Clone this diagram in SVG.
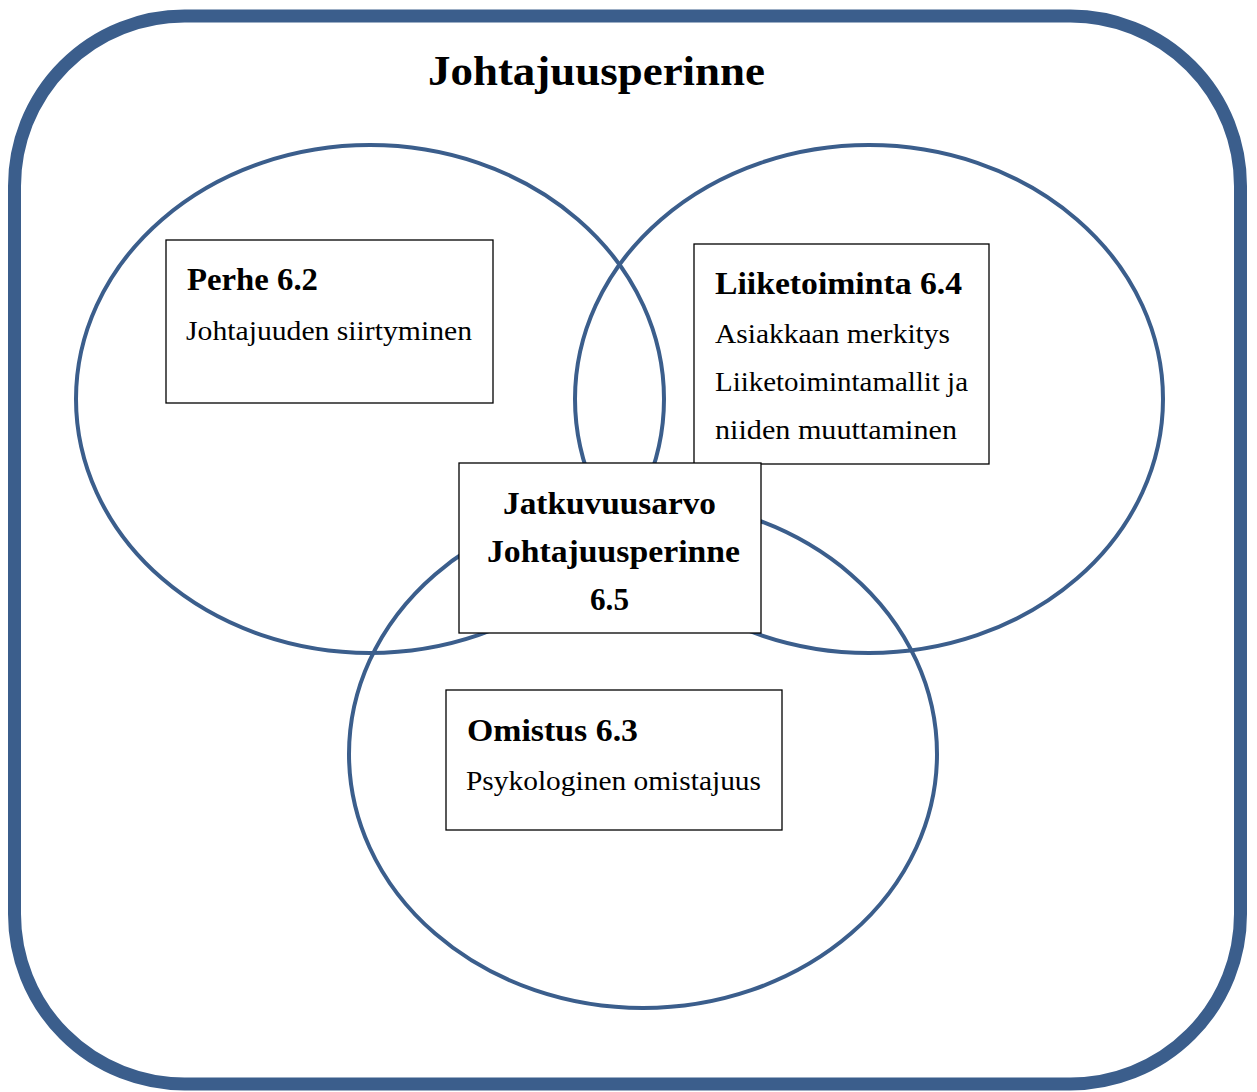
<svg xmlns="http://www.w3.org/2000/svg" width="1257" height="1092" viewBox="0 0 1257 1092">
  <style>
    .frame { fill: #ffffff; stroke: #3b5e8c; stroke-width: 13; }
    .ring { fill: none; stroke: #3b5e8c; stroke-width: 4; }
    .box { fill: #ffffff; stroke: #000000; stroke-width: 1.3; }
    text { font-family: "Liberation Serif", "DejaVu Serif", serif; fill: #000000; }
    .title { font-size: 42px; font-weight: bold; }
    .head { font-size: 31px; font-weight: bold; }
    .body { font-size: 27px; }
  </style>

  <!-- outer frame -->
  <rect class="frame" x="14.5" y="16" width="1226" height="1068" rx="170" ry="170"/>
  <text class="title" x="428" y="85" textLength="337" lengthAdjust="spacingAndGlyphs">Johtajuusperinne</text>

  <!-- the three overlapping areas -->
  <g id="areas">
    <ellipse class="ring" cx="370" cy="399" rx="294" ry="254"/>
    <ellipse class="ring" cx="869" cy="399" rx="294" ry="254"/>
    <ellipse class="ring" cx="643" cy="754" rx="294" ry="254"/>
  </g>

  <g id="perhe">
    <rect class="box" x="166" y="240" width="327" height="163"/>
    <text class="head" x="187" y="290" textLength="131" lengthAdjust="spacingAndGlyphs">Perhe 6.2</text>
    <text class="body" x="186" y="340" textLength="286" lengthAdjust="spacingAndGlyphs">Johtajuuden siirtyminen</text>
  </g>

  <g id="liiketoiminta">
    <rect class="box" x="694" y="244" width="295" height="220"/>
    <text class="head" x="715" y="294" textLength="247" lengthAdjust="spacingAndGlyphs">Liiketoiminta 6.4</text>
    <text class="body" x="715" y="343" textLength="235" lengthAdjust="spacingAndGlyphs">Asiakkaan merkitys</text>
    <text class="body" x="715" y="391" textLength="253" lengthAdjust="spacingAndGlyphs">Liiketoimintamallit ja</text>
    <text class="body" x="715" y="439" textLength="242" lengthAdjust="spacingAndGlyphs">niiden muuttaminen</text>
  </g>

  <g id="jatkuvuusarvo">
    <rect class="box" x="459" y="463" width="302" height="170"/>
    <text class="head" x="503" y="514" textLength="213" lengthAdjust="spacingAndGlyphs">Jatkuvuusarvo</text>
    <text class="head" x="487" y="562" textLength="253" lengthAdjust="spacingAndGlyphs">Johtajuusperinne</text>
    <text class="head" x="590" y="610" textLength="39" lengthAdjust="spacingAndGlyphs">6.5</text>
  </g>

  <g id="omistus">
    <rect class="box" x="446" y="690" width="336" height="140"/>
    <text class="head" x="467" y="741" textLength="171" lengthAdjust="spacingAndGlyphs">Omistus 6.3</text>
    <text class="body" x="466" y="790" textLength="295" lengthAdjust="spacingAndGlyphs">Psykologinen omistajuus</text>
  </g>
</svg>
